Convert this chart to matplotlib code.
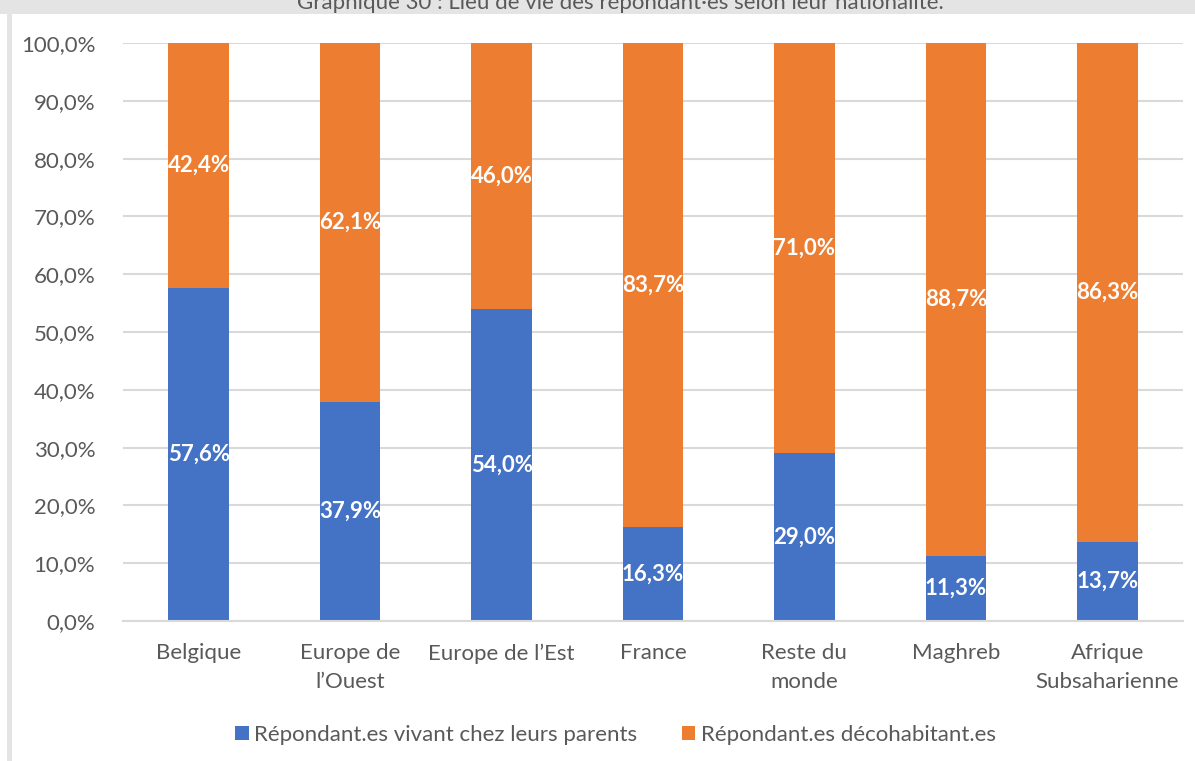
import matplotlib.pyplot as plt
from matplotlib.patches import Rectangle

# Lieu de vie des répondant·es selon la nationalité (%)
categories = ["Belgique", "Europe de\nl’Ouest", "Europe de l’Est", "France",
              "Reste du\nmonde", "Maghreb", "Afrique\nSubsaharienne"]
chez_parents = [57.6, 37.9, 54.0, 16.3, 29.0, 11.3, 13.7]
decohabitants = [42.4, 62.1, 46.0, 83.7, 71.0, 88.7, 86.3]
yticks = [0, 10, 20, 30, 40, 50, 60, 70, 80, 90, 100]

BLUE = "#4472C4"
ORANGE = "#ED7D31"
TXT = "#595959"

plt.rcParams["font.family"] = ["Lato", "DejaVu Sans"]

fig = plt.figure(figsize=(11.95, 7.61), dpi=100, facecolor="white")

# cadre gris de la zone de graphique
fig.patches.append(Rectangle((0, 1 - 14 / 761), 1, 14 / 761, transform=fig.transFigure,
                             facecolor="#E4E4E4", edgecolor="none", zorder=0))
fig.patches.append(Rectangle((7 / 1195, 0), 5 / 1195, 1, transform=fig.transFigure,
                             facecolor="#E4E4E4", edgecolor="none", zorder=0))
fig.patches.append(Rectangle((0, 1 - 14 / 761), 12 / 1195, 14 / 761, transform=fig.transFigure,
                             facecolor="#E4E4E4", edgecolor="none", zorder=0))

fig.text(0.519, 1 - 9 / 761, "Graphique 30 : Lieu de vie des répondant·es selon leur nationalité.",
         ha="center", va="baseline", fontsize=16, color=TXT)

ax = fig.add_axes([123 / 1195, 1 - 621 / 761, 1060 / 1195, 578 / 761])
x = range(len(categories))
w = 0.4
b1 = ax.bar(x, chez_parents, width=w, color=BLUE, label="Répondant.es vivant chez leurs parents",
            zorder=2)
b2 = ax.bar(x, decohabitants, width=w, bottom=chez_parents, color=ORANGE,
            label="Répondant.es décohabitant.es", zorder=2)

def fmt(v):
    return f"{v:.1f}%".replace(".", ",")

for i in x:
    ax.text(i, chez_parents[i] / 2, fmt(chez_parents[i]), ha="center", va="center",
            color="white", fontsize=16, fontweight="bold", zorder=3)
    ax.text(i, chez_parents[i] + decohabitants[i] / 2, fmt(decohabitants[i]), ha="center",
            va="center", color="white", fontsize=16, fontweight="bold", zorder=3)

ax.set_xlim(-0.5, len(categories) - 0.5)
ax.set_ylim(0, 100)
ax.set_yticks(yticks)
ax.set_yticklabels([fmt(t) for t in yticks])
ax.set_xticks(list(x))
ax.set_xticklabels(categories, linespacing=1.55)
ax.tick_params(axis="y", length=0, pad=20, labelsize=16, labelcolor=TXT)
ax.tick_params(axis="x", length=0, pad=16, labelsize=16, labelcolor=TXT)
for lab in ax.get_xticklabels():
    lab.set_verticalalignment("top")
ax.yaxis.grid(True, color="#D9D9D9", linewidth=1.5, zorder=0)
ax.set_axisbelow(True)
for s in ["top", "right", "left"]:
    ax.spines[s].set_visible(False)
ax.spines["bottom"].set_color("#D9D9D9")
ax.spines["bottom"].set_linewidth(1.5)

fig.legend(handles=[b1, b2], loc="center", bbox_to_anchor=(0.515, 1 - 735 / 761), ncol=2,
           frameon=False, fontsize=16, labelcolor=TXT, handlelength=0.6, handleheight=0.6,
           handletextpad=0.25, columnspacing=2.0)

fig.savefig("out.png", dpi=100, facecolor="white")
